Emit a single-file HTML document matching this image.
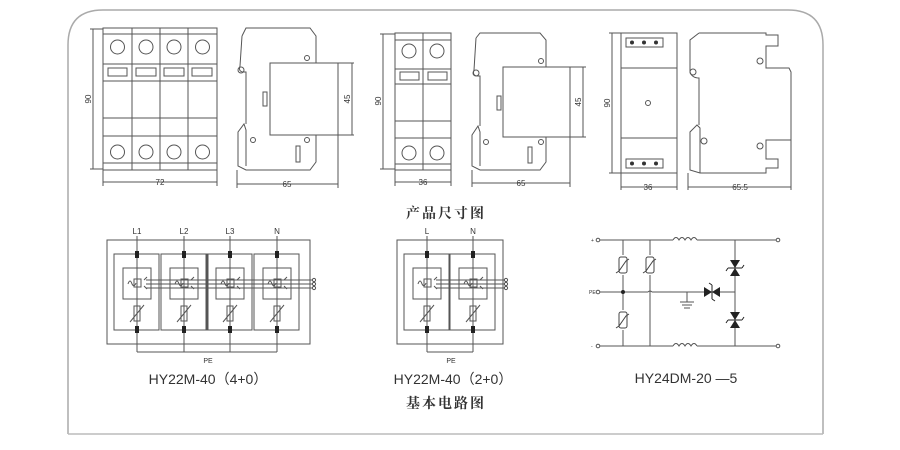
<!DOCTYPE html>
<html><head><meta charset="utf-8"><style>
html,body{margin:0;padding:0;background:#fff;width:900px;height:450px;overflow:hidden}
svg{display:block}
text{font-family:"Liberation Sans","Noto Sans CJK SC",sans-serif;fill:#333}
</style></head><body>
<svg width="900" height="450" viewBox="0 0 900 450" xmlns="http://www.w3.org/2000/svg">
<defs>
<g id="mod" fill="none" stroke="#555" stroke-width="1">
  <rect x="0" y="0" width="45" height="76"/>
  <rect x="9" y="14" width="28" height="31"/>
  <path d="M14,30 q2,-6 4,0 q2,4 4,-1"/>
  <rect x="20" y="25" width="7" height="8"/>
  <line x1="23" y1="25" x2="23" y2="33"/>
  <path d="M30,26 l3,-3 M30,32 l3,3"/>
  <rect x="20" y="52" width="6" height="15"/>
  <line x1="16" y1="68" x2="30" y2="51"/>
  <line x1="23" y1="45" x2="23" y2="52"/>
  <line x1="23" y1="67" x2="23" y2="76"/>
  <rect x="21" y="-3" width="4" height="7" fill="#222" stroke="none"/>
  <rect x="21" y="72" width="4" height="7" fill="#222" stroke="none"/>
</g>
<g id="var" fill="none" stroke="#444" stroke-width="1">
  <rect x="-4" y="-8" width="8" height="16" rx="2"/>
  <path d="M-7,8 l3,-2 l7,-10 l3,-2"/>
</g>
<g id="tvs">
  <path d="M-5,-8 L5,-8 L0,0 Z M-5,8 L5,8 L0,0 Z" fill="#222"/>
  <path d="M-7,0 L7,0 M-7,0 l-2,3 M7,0 l2,-3" stroke="#222" fill="none"/>
</g>
</defs>

<!-- outer rounded frame -->
<path d="M68,434 L68,45 Q68,10 103,10 L788,10 Q823,10 823,45 L823,434" fill="none" stroke="#aaa" stroke-width="1.5"/>
<line x1="68" y1="434" x2="823" y2="434" stroke="#bbb" stroke-width="1.5"/>

<g fill="none" stroke="#555" stroke-width="1">
<!-- ===== Drawing 1 front 4P ===== -->
<rect x="103" y="28" width="114" height="142"/>
<line x1="132" y1="28" x2="132" y2="170"/><line x1="160" y1="28" x2="160" y2="170"/><line x1="188" y1="28" x2="188" y2="170"/>
<line x1="103" y1="34" x2="217" y2="34"/><line x1="103" y1="64" x2="217" y2="64"/><line x1="103" y1="81" x2="217" y2="81"/>
<line x1="103" y1="118" x2="217" y2="118"/><line x1="103" y1="136" x2="217" y2="136"/><line x1="103" y1="163" x2="217" y2="163"/>
<circle cx="117.5" cy="47" r="7"/><circle cx="146" cy="47" r="7"/><circle cx="174" cy="47" r="7"/><circle cx="202.5" cy="47" r="7"/>
<circle cx="117.5" cy="152" r="7"/><circle cx="146" cy="152" r="7"/><circle cx="174" cy="152" r="7"/><circle cx="202.5" cy="152" r="7"/>
<rect x="108" y="68" width="19" height="8"/><rect x="136" y="68" width="20" height="8"/><rect x="164" y="68" width="20" height="8"/><rect x="192" y="68" width="20" height="8"/>
<line x1="93" y1="29" x2="93" y2="169"/><line x1="90" y1="29" x2="103" y2="29"/><line x1="90" y1="169" x2="103" y2="169"/>
<line x1="103" y1="182" x2="217" y2="182"/><line x1="103" y1="170" x2="103" y2="186"/><line x1="217" y1="170" x2="217" y2="186"/>

<!-- Drawing 1 side -->
<path d="M242,36 L246,28 L310,28 L316,36 L316,63 M316,135 L316,162 L310,170 L246,170 L238,166 L238,132 L244,124 L246,130 L246,166 M242,36 L240,66 Q238,72 244,72 L246,72 L246,124"/>
<circle cx="241" cy="70" r="3"/>
<rect x="270" y="63" width="68" height="72"/>
<circle cx="307" cy="58" r="2.5"/><circle cx="307" cy="140" r="2.5"/><circle cx="253" cy="140" r="2.5"/>
<rect x="263" y="92" width="4" height="14"/><rect x="296" y="146" width="4" height="16"/>
<line x1="338" y1="63" x2="354" y2="63"/><line x1="338" y1="135" x2="354" y2="135"/><line x1="352" y1="63" x2="352" y2="135"/>
<line x1="237" y1="184" x2="338" y2="184"/><line x1="237" y1="170" x2="237" y2="188"/><line x1="338" y1="135" x2="338" y2="188"/>

<!-- ===== Drawing 2 front 2P ===== -->
<rect x="395" y="33" width="56" height="137"/>
<line x1="423" y1="33" x2="423" y2="170"/>
<line x1="395" y1="40" x2="451" y2="40"/><line x1="395" y1="69" x2="451" y2="69"/><line x1="395" y1="84" x2="451" y2="84"/>
<line x1="395" y1="121" x2="451" y2="121"/><line x1="395" y1="138" x2="451" y2="138"/><line x1="395" y1="164" x2="451" y2="164"/>
<circle cx="409" cy="51" r="7"/><circle cx="437" cy="51" r="7"/><circle cx="409" cy="153" r="7"/><circle cx="437" cy="153" r="7"/>
<rect x="400" y="72" width="19" height="8"/><rect x="428" y="72" width="19" height="8"/>
<line x1="383" y1="34" x2="383" y2="169"/><line x1="380" y1="34" x2="395" y2="34"/><line x1="380" y1="169" x2="395" y2="169"/>
<line x1="395" y1="182" x2="451" y2="182"/><line x1="395" y1="170" x2="395" y2="186"/><line x1="451" y1="170" x2="451" y2="186"/>

<!-- Drawing 2 side -->
<path d="M476,38 L480,33 L540,33 L546,40 L546,67 M546,137 L546,162 L540,170 L480,170 L472,166 L472,135 L478,126 L480,132 L480,166 M476,38 L474,70 Q472,76 478,76 L480,76 L480,126"/>
<circle cx="476" cy="73" r="3"/>
<rect x="503" y="67" width="67" height="70"/>
<circle cx="541" cy="61" r="2.5"/><circle cx="541" cy="142" r="2.5"/><circle cx="486" cy="142" r="2.5"/>
<rect x="497" y="96" width="4" height="14"/><rect x="528" y="147" width="4" height="16"/>
<line x1="570" y1="67" x2="586" y2="67"/><line x1="570" y1="137" x2="586" y2="137"/><line x1="583" y1="67" x2="583" y2="137"/>
<line x1="472" y1="183" x2="570" y2="183"/><line x1="472" y1="170" x2="472" y2="187"/><line x1="570" y1="137" x2="570" y2="187"/>

<!-- ===== Drawing 3 front ===== -->
<rect x="621" y="33" width="56" height="140"/>
<line x1="621" y1="68" x2="677" y2="68"/><line x1="621" y1="138" x2="677" y2="138"/>
<rect x="626" y="38" width="37" height="9"/><rect x="626" y="159" width="37" height="9"/>
<circle cx="648" cy="103" r="2.5"/>
<line x1="612" y1="33" x2="612" y2="173"/><line x1="609" y1="33" x2="621" y2="33"/><line x1="609" y1="173" x2="621" y2="173"/>
<line x1="621" y1="187" x2="677" y2="187"/><line x1="621" y1="173" x2="621" y2="190"/><line x1="677" y1="173" x2="677" y2="190"/>

<!-- Drawing 3 side -->
<path d="M699,33 L766,33 L766,35 L778,35 L778,46 L766,46 L766,68 L789,68 L791,72 L791,140 L766,140 L766,159 L778,159 L778,168 L766,168 L766,173 L700,173 L690,170 L690,132 L697,125 L700,128 L700,173 M699,33 L690,40 L690,72 Q692,78 699,78 L699,125"/>
<circle cx="693" cy="72" r="3"/><circle cx="760" cy="61" r="3"/><circle cx="760" cy="146" r="3"/><circle cx="704" cy="141" r="3"/>
<line x1="688" y1="187" x2="791" y2="187"/><line x1="688" y1="173" x2="688" y2="190"/><line x1="791" y1="140" x2="791" y2="190"/>
</g>
<g fill="#333">
<circle cx="632" cy="42.5" r="2"/><circle cx="644" cy="42.5" r="2"/><circle cx="656" cy="42.5" r="2"/>
<circle cx="632" cy="163.5" r="2"/><circle cx="644" cy="163.5" r="2"/><circle cx="656" cy="163.5" r="2"/>
</g>

<!-- dimension texts -->
<g font-size="8">
<text x="160" y="185" text-anchor="middle">72</text>
<text x="287" y="187" text-anchor="middle">65</text>
<text x="423" y="185" text-anchor="middle">36</text>
<text x="521" y="186" text-anchor="middle">65</text>
<text x="648" y="190" text-anchor="middle">36</text>
<text x="740" y="190" text-anchor="middle">65.5</text>
<text transform="translate(91,99) rotate(-90)" text-anchor="middle">90</text>
<text transform="translate(381,101) rotate(-90)" text-anchor="middle">90</text>
<text transform="translate(610,103) rotate(-90)" text-anchor="middle">90</text>
<text transform="translate(350,99) rotate(-90)" text-anchor="middle">45</text>
<text transform="translate(581,102) rotate(-90)" text-anchor="middle">45</text>
</g>

<text x="446" y="218" font-size="14" font-weight="bold" text-anchor="middle" style="font-family:'Noto Serif CJK SC','Noto Sans CJK SC',serif;letter-spacing:2px">产品尺寸图</text>

<!-- ===== Circuit 1 ===== -->
<g fill="none" stroke="#555" stroke-width="1">
<rect x="107" y="240" width="203" height="104"/>
<line x1="137" y1="236" x2="137" y2="352"/><line x1="184" y1="236" x2="184" y2="352"/>
<line x1="230" y1="236" x2="230" y2="352"/><line x1="277" y1="236" x2="277" y2="352"/>
<line x1="137" y1="352" x2="277" y2="352"/>
<line x1="146" y1="280" x2="312" y2="280"/><line x1="146" y1="284" x2="312" y2="284"/><line x1="146" y1="288" x2="312" y2="288"/>
<line x1="208" y1="254" x2="208" y2="330"/>
</g>
<use href="#mod" x="114" y="254"/><use href="#mod" x="161" y="254"/><use href="#mod" x="207" y="254"/><use href="#mod" x="254" y="254"/>
<g fill="#fff" stroke="#555"><circle cx="314" cy="280" r="1.6"/><circle cx="314" cy="284" r="1.6"/><circle cx="314" cy="288" r="1.6"/></g>
<g font-size="8"><text x="137" y="234" text-anchor="middle">L1</text><text x="184" y="234" text-anchor="middle">L2</text><text x="230" y="234" text-anchor="middle">L3</text><text x="277" y="234" text-anchor="middle">N</text>
<text x="208" y="363" text-anchor="middle" font-size="7">PE</text></g>
<text x="208" y="384" font-size="14" text-anchor="middle">HY22M-40（4+0）</text>

<!-- ===== Circuit 2 ===== -->
<g fill="none" stroke="#555" stroke-width="1">
<rect x="397" y="240" width="106" height="104"/>
<line x1="427" y1="236" x2="427" y2="352"/><line x1="473" y1="236" x2="473" y2="352"/>
<line x1="427" y1="352" x2="473" y2="352"/>
<line x1="436" y1="280" x2="505" y2="280"/><line x1="436" y1="284" x2="505" y2="284"/><line x1="436" y1="288" x2="505" y2="288"/>
</g>
<use href="#mod" x="404" y="254"/><use href="#mod" x="450" y="254"/>
<g fill="#fff" stroke="#555"><circle cx="506" cy="280" r="1.6"/><circle cx="506" cy="284" r="1.6"/><circle cx="506" cy="288" r="1.6"/></g>
<g font-size="8"><text x="427" y="234" text-anchor="middle">L</text><text x="473" y="234" text-anchor="middle">N</text>
<text x="451" y="363" text-anchor="middle" font-size="7">PE</text></g>
<text x="453" y="384" font-size="14" text-anchor="middle">HY22M-40（2+0）</text>
<text x="446" y="408" font-size="14" font-weight="bold" text-anchor="middle" style="font-family:'Noto Serif CJK SC','Noto Sans CJK SC',serif;letter-spacing:2px">基本电路图</text>

<!-- ===== Circuit 3 ===== -->
<g fill="none" stroke="#555" stroke-width="1">
<line x1="598" y1="240" x2="673" y2="240"/><line x1="697" y1="240" x2="778" y2="240"/>
<line x1="598" y1="346" x2="673" y2="346"/><line x1="697" y1="346" x2="778" y2="346"/>
<path d="M673,240 q3,-5 6,0 q3,-5 6,0 q3,-5 6,0 q3,-5 6,0"/>
<path d="M673,346 q3,-5 6,0 q3,-5 6,0 q3,-5 6,0 q3,-5 6,0"/>
<line x1="598" y1="292" x2="648" y2="292"/><path d="M648,292 q2,-2 4,0"/><line x1="652" y1="292" x2="735" y2="292"/>
<line x1="623" y1="240" x2="623" y2="346"/><line x1="650" y1="240" x2="650" y2="346"/><line x1="735" y1="240" x2="735" y2="346"/>
<line x1="687" y1="292" x2="687" y2="302"/><line x1="680" y1="302" x2="694" y2="302"/><line x1="682" y1="305" x2="692" y2="305"/><line x1="684" y1="308" x2="690" y2="308"/>
</g>
<rect x="619" y="255" width="8" height="20" fill="#fff"/><use href="#var" x="623" y="265"/>
<rect x="646" y="255" width="8" height="20" fill="#fff"/><use href="#var" x="650" y="265"/>
<rect x="619" y="310" width="8" height="20" fill="#fff"/><use href="#var" x="623" y="320"/>
<use href="#tvs" x="735" y="268"/><use href="#tvs" x="735" y="320"/>
<use href="#tvs" transform="translate(712,292) rotate(90)"/>
<circle cx="623" cy="292" r="2" fill="#222"/>
<g fill="#fff" stroke="#555"><circle cx="598" cy="240" r="1.8"/><circle cx="598" cy="292" r="1.8"/><circle cx="598" cy="346" r="1.8"/><circle cx="778" cy="240" r="1.8"/><circle cx="778" cy="346" r="1.8"/></g>
<g font-size="5"><text x="591" y="242">+</text><text x="589" y="294">PE</text><text x="591" y="348">-</text></g>
<text x="686" y="383" font-size="14" text-anchor="middle">HY24DM-20 —5</text>
</svg>
</body></html>
